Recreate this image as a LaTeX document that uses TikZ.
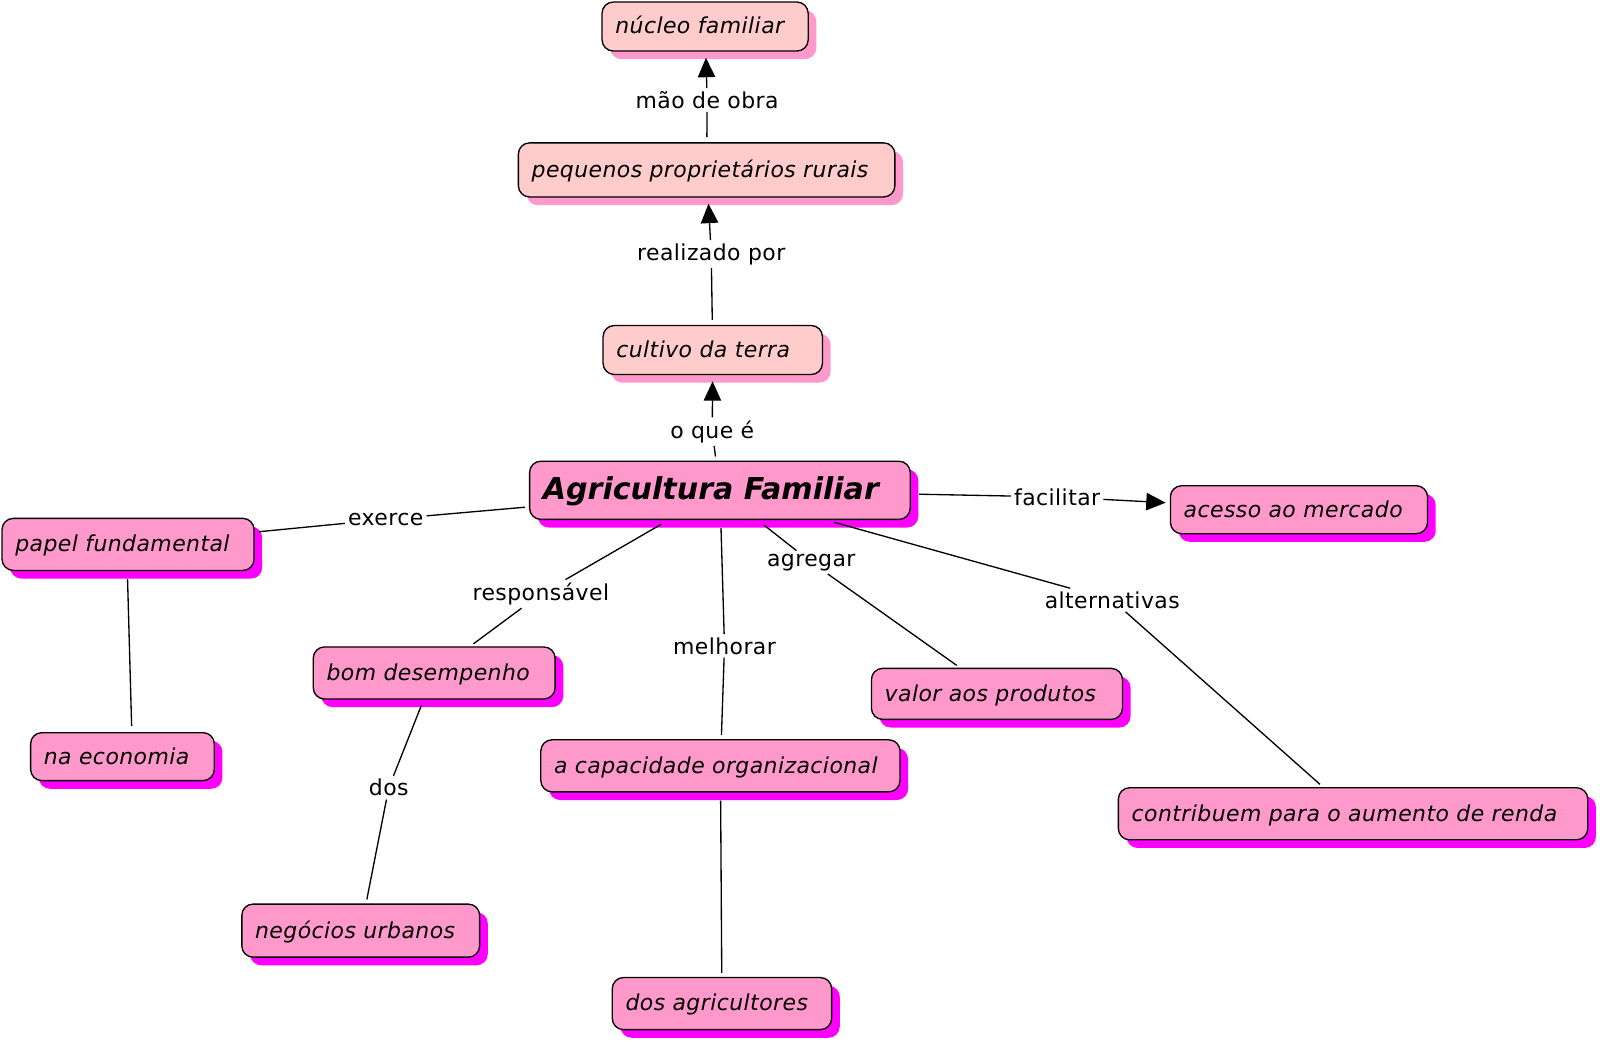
\documentclass[tikz,border=0pt]{standalone}
\usepackage{fontspec}
\setmainfont[LetterSpace=2]{DejaVu Sans}
\newfontfamily\agfont{DejaVu Sans}
\usetikzlibrary{shadows,arrows.meta,calc}
\definecolor{palepink}{RGB}{255,204,204}
\definecolor{pinkfill}{RGB}{255,153,204}
\definecolor{magshadow}{RGB}{255,0,255}
\newcommand\bt[2]{\makebox[#1pt][l]{\hspace*{13pt}#2}}
\begin{document}
\begin{tikzpicture}[x=1pt,y=-1pt,
 concept/.style={draw=black, line width=1.3pt, rounded corners=11pt, inner sep=0pt,
   font=\fontsize{21.5}{25}\selectfont\itshape, text height=17pt, text depth=2.5pt},
 hi/.style={concept, fill=palepink, copy shadow={shadow xshift=8pt, shadow yshift=-8pt, fill=pinkfill, draw=none}},
 lo/.style={concept, fill=pinkfill, copy shadow={shadow xshift=8pt, shadow yshift=-8pt, fill=magshadow, draw=none}},
 lab/.style={font=\fontsize{21.5}{25}\selectfont, inner sep=3pt},
 conn/.style={line width=1.3pt},
 arr/.style={conn, -{Triangle[length=19pt,width=17pt]}},
]
\fill[white] (0,0) rectangle (1568,1021);
\useasboundingbox (0,0) rectangle (1568,1021);

% concepts
\node[hi, minimum width=202pt, minimum height=48pt] (nf) at (691,26) {\bt{202}{núcleo familiar}};
\node[hi, minimum width=369pt, minimum height=53pt] (ppr) at (692.5,166.5) {\bt{369}{pequenos proprietários rurais}};
\node[hi, minimum width=215pt, minimum height=48pt] (cult) at (698.5,343) {\bt{215}{cultivo da terra}};
\node[lo, minimum width=373pt, minimum height=57pt, font=\agfont\fontsize{29.5}{34}\selectfont\bfseries\itshape, text height=22pt, text depth=4pt] (main) at (705.5,480.5) {\makebox[373pt][l]{\hspace*{13pt}Agricultura Familiar}};
\node[lo, minimum width=252pt, minimum height=47pt] (acesso) at (1273,499.5) {\bt{252}{acesso ao mercado}};
\node[lo, minimum width=247pt, minimum height=51pt] (papel) at (125.5,533.5) {\bt{247}{papel fundamental}};
\node[lo, minimum width=180pt, minimum height=47pt] (naeco) at (120,741.5) {\bt{180}{na economia}};
\node[lo, minimum width=237pt, minimum height=51pt] (bom) at (425.5,659.5) {\bt{237}{bom desempenho}};
\node[lo, minimum width=246pt, minimum height=50pt] (valor) at (977,680) {\bt{246}{valor aos produtos}};
\node[lo, minimum width=352pt, minimum height=51pt] (cap) at (706,750.5) {\bt{352}{a capacidade organizacional}};
\node[lo, minimum width=460pt, minimum height=51pt] (contrib) at (1326,797.5) {\bt{460}{contribuem para o aumento de renda}};
\node[lo, minimum width=233pt, minimum height=52pt] (neg) at (353.5,912) {\bt{233}{negócios urbanos}};
\node[lo, minimum width=215pt, minimum height=51pt] (dosag) at (707.5,983.5) {\bt{215}{dos agricultores}};

% linking phrases
\node[lab] (mao) at (693,98) {mão de obra};
\node[lab] (real) at (697,249) {realizado por};
\node[lab] (oque) at (698,423) {o que é};
\node[lab] (fac) at (1036,487) {facilitar};
\node[lab] (exe) at (378,509) {exerce};
\node[lab] (resp) at (530,582) {responsável};
\node[lab] (melh) at (710,633) {melhorar};
\node[lab] (agr) at (795,551) {agregar};
\node[lab] (alt) at (1090,588) {alternativas};
\node[lab] (dos) at (381,772) {dos};

% connectors
\draw[conn, shorten <=5pt] (ppr) -- (mao);
\draw[arr, shorten >=6pt] (mao) -- (nf);
\draw[conn, shorten <=5pt] (cult) -- (real);
\draw[arr, shorten >=6pt] (real) -- (ppr);
\draw[conn, shorten <=4pt] (main) -- (oque);
\draw[arr, shorten >=6pt] (oque) -- (cult);
\draw[conn, shorten <=8pt] (main) -- (fac);
\draw[arr, shorten >=4pt] (fac) -- (acesso);
\draw[conn, shorten <=4pt] (main) -- (exe);
\draw[conn, shorten >=4pt] (exe) -- (papel);
\draw[conn, shorten <=8pt] (main) -- (resp);
\draw[conn, shorten >=4pt] (resp) -- (bom);
\draw[conn, shorten <=8pt] (main) -- (melh);
\draw[conn, shorten >=4pt] (melh) -- (cap);
\draw[conn, shorten <=8pt] (main) -- (agr);
\draw[conn, shorten >=4pt] (agr) -- (valor);
\draw[conn, shorten <=8pt] (main) -- (alt);
\draw[conn, shorten >=4pt] (alt) -- (contrib);
\draw[conn] ($(papel.south)+(-0.5,8)$) -- ($(naeco.north)+(9,-6)$);
\draw[conn, shorten <=6pt] (bom) -- (dos);
\draw[conn, shorten >=4pt] (dos) -- (neg);
\draw[conn, shorten <=8pt, shorten >=4pt] (cap) -- (dosag);
\end{tikzpicture}
\end{document}
